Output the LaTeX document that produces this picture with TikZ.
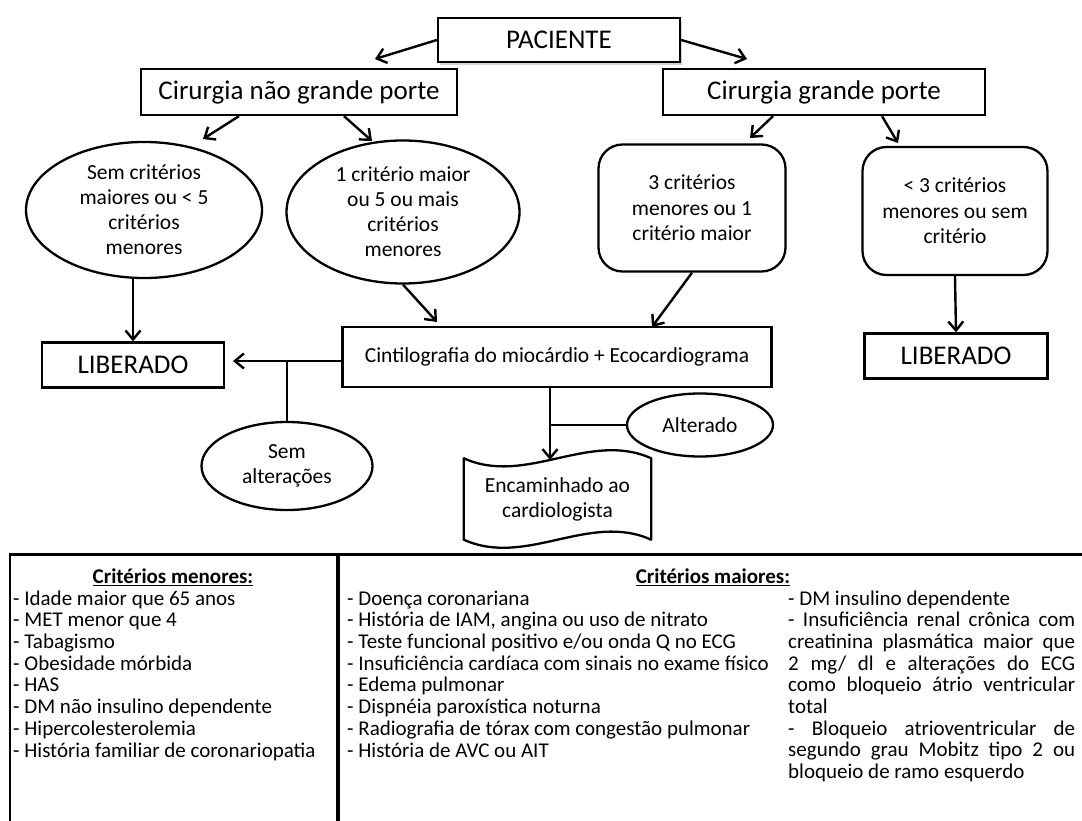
\documentclass[tikz,border=0pt]{standalone}
\usepackage{fontspec}
\setmainfont{Carlito}
\usepackage{tikz}
\usetikzlibrary{shapes, arrows.meta, calc, shadows, positioning}

\begin{document}
\begin{tikzpicture}[x=1pt, y=-1pt,
    box/.style={draw, line width=2.3pt, inner sep=0pt, font=\fontsize{27}{30}\selectfont},
    oval/.style={ellipse, draw, line width=2.3pt, inner sep=-6pt, align=center, font=\fontsize{21.5}{25}\selectfont},
    roundbox/.style={draw, line width=2.3pt, rounded corners=24pt, inner sep=0pt, align=center, font=\fontsize{21.5}{25.5}\selectfont},
    arr/.style={-{Straight Barb[length=9pt, width=15pt]}, line width=2.4pt},
    crit/.style={anchor=base west, inner sep=0pt, align=left, font=\fontsize{21}{21.7}\selectfont}]

                \coordinate (A) at (0, 0);
                \useasboundingbox ($ (A) + (0,0) $) rectangle ($ (A) + (1082,821) $);

                % patient
                \node[box, fill=white, minimum width=242pt, minimum height=44pt, drop shadow={opacity=0.35, shadow xshift=2pt, shadow yshift=-3pt}] (paciente) at ($ (A) + (559,40) $) {PACIENTE};

                % surgery size
                \node[box, minimum width=316pt, minimum height=46pt] (naoGrande) at ($ (A) + (299,92) $) {Cirurgia não grande porte};
                \node[box, minimum width=322pt, minimum height=46pt] (grande) at ($ (A) + (824,92) $) {Cirurgia grande porte};

                % criteria count
                \node[oval, minimum width=236pt, minimum height=136pt] (semCrit) at ($ (A) + (144,210) $) {Sem critérios\\maiores ou < 5\\critérios\\menores};
                \node[oval, minimum width=233pt, minimum height=143pt] (umCrit) at ($ (A) + (403,212) $) {1 critério maior\\ou 5 ou mais\\critérios\\menores};
                \node[roundbox, minimum width=187pt, minimum height=127pt] (tresCrit) at ($ (A) + (692,208) $) {3 critérios\\menores ou 1\\critério maior};
                \node[roundbox, minimum width=185pt, minimum height=128pt] (menosTres) at ($ (A) + (955,211) $) {< 3 critérios\\menores ou sem\\critério};

                % outcomes
                \node[box, minimum width=182pt, minimum height=45pt] (liberadoL) at ($ (A) + (133,365) $) {LIBERADO};
                \node[box, minimum width=183pt, minimum height=45pt] (liberadoR) at ($ (A) + (956,356) $) {LIBERADO};
                \node[box, font=\fontsize{21.5}{25}\selectfont, minimum width=429pt, minimum height=60pt] (cinti) at ($ (A) + (557,357) $) {Cintilografia do miocárdio + Ecocardiograma};
                \node[oval, minimum width=171pt, minimum height=88pt] (semAlt) at ($ (A) + (287,466) $) {Sem\\alterações};
                \node[oval, minimum width=146pt, minimum height=63pt] (alterado) at ($ (A) + (700,425) $) {Alterado};

                % referral (tape)
                \node[inner sep=0pt, align=center, font=\fontsize{21.5}{25}\selectfont, minimum width=187pt, minimum height=81pt] (encam) at ($ (A) + (557.5,499) $) {Encaminhado ao\\cardiologista};
                \draw[line width=2.3pt, line join=round] (encam.north west) .. controls ($ (encam.north west) + (62,28) $) and ($ (encam.north east) + (-62,-28) $) .. (encam.north east) -- (encam.south east) .. controls ($ (encam.south east) + (-62,-28) $) and ($ (encam.south west) + (62,28) $) .. (encam.south west) -- cycle;

                % arrow ends
                \coordinate (pacL) at ($ (A) + (375,59) $);
                \coordinate (pacR) at ($ (A) + (747,59) $);
                \coordinate (naoL) at ($ (A) + (203,139) $);
                \coordinate (naoR) at ($ (A) + (372,141) $);
                \coordinate (graL) at ($ (A) + (750,138) $);
                \coordinate (graR) at ($ (A) + (898,143) $);
                \coordinate (cinTipL) at ($ (A) + (437,322) $);
                \coordinate (cinTipR) at ($ (A) + (652,327) $);
                \coordinate (libTip) at ($ (A) + (233,361) $);
                \coordinate (encTip) at ($ (A) + (550,460) $);

                % arrows
                \draw[arr] (paciente.west) -- (pacL);
                \draw[arr] (paciente.east) -- (pacR);
                \draw[arr] ($ (naoGrande.south) + (-60,0) $) -- (naoL);
                \draw[arr] ($ (naoGrande.south) + (45,0) $) -- (naoR);
                \draw[arr] ($ (grande.south) + (-51,0) $) -- (graL);
                \draw[arr] ($ (grande.south) + (58,0) $) -- (graR);
                \draw[arr] (semCrit.south -| liberadoL.north) -- (liberadoL.north);
                \draw[arr] (umCrit.south) -- (cinTipL);
                \draw[arr] (tresCrit.south) -- (cinTipR);
                \draw[arr] (menosTres.south) -- (liberadoR.north);

                \draw[arr] (cinti.west |- libTip) -- (libTip);
                \draw[line width=2.4pt] (semAlt.north) -- (semAlt.north |- libTip);
                \draw[arr] (cinti.south -| encTip) -- (encTip);
                \draw[line width=2.4pt] (alterado.west) -- (alterado.west -| encTip);

                % criteria table
                \draw[line width=3pt] ($ (A) + (10,554) $) -- ($ (A) + (1082,554) $);
                \draw[line width=2pt] ($ (A) + (10,553) $) -- ($ (A) + (10,821) $);
                \draw[line width=4pt] ($ (A) + (338,553) $) -- ($ (A) + (338,821) $);

                \node[font=\fontsize{21}{24}\selectfont\bfseries] (hMenores) at ($ (A) + (173,577) $) {\underline{Critérios menores:}};
                \node[font=\fontsize{21}{24}\selectfont\bfseries] (hMaiores) at ($ (A) + (713,577) $) {\underline{Critérios maiores:}};

                % base anchor sits on the last line
                \node[crit] (menores) at ($ (A) + (13,757) $) {- Idade maior que 65 anos\\- MET menor que 4\\- Tabagismo\\- Obesidade mórbida\\- HAS\\- DM não insulino dependente\\- Hipercolesterolemia\\- História familiar de coronariopatia};

                \node[crit] (maiores) at ($ (A) + (347,757) $) {- Doença coronariana\\- História de IAM, angina ou uso de nitrato\\- Teste funcional positivo e/ou onda Q no ECG\\- Insuficiência cardíaca com sinais no exame físico\\- Edema pulmonar\\- Dispnéia paroxística noturna\\- Radiografia de tórax com congestão pulmonar\\- História de AVC ou AIT};

                \node[crit] (maioresB) at ($ (A) + (788,778.6) $) {- DM insulino dependente\\\makebox[287pt][s]{- Insuficiência renal crônica com}\\\makebox[287pt][s]{creatinina plasmática maior que}\\\makebox[287pt][s]{2 mg/ dl e alterações do ECG}\\\makebox[287pt][s]{como bloqueio átrio ventricular}\\total\\\makebox[287pt][s]{- Bloqueio atrioventricular de}\\\makebox[287pt][s]{segundo grau Mobitz tipo 2 ou}\\bloqueio de ramo esquerdo};

\end{tikzpicture}
\end{document}
